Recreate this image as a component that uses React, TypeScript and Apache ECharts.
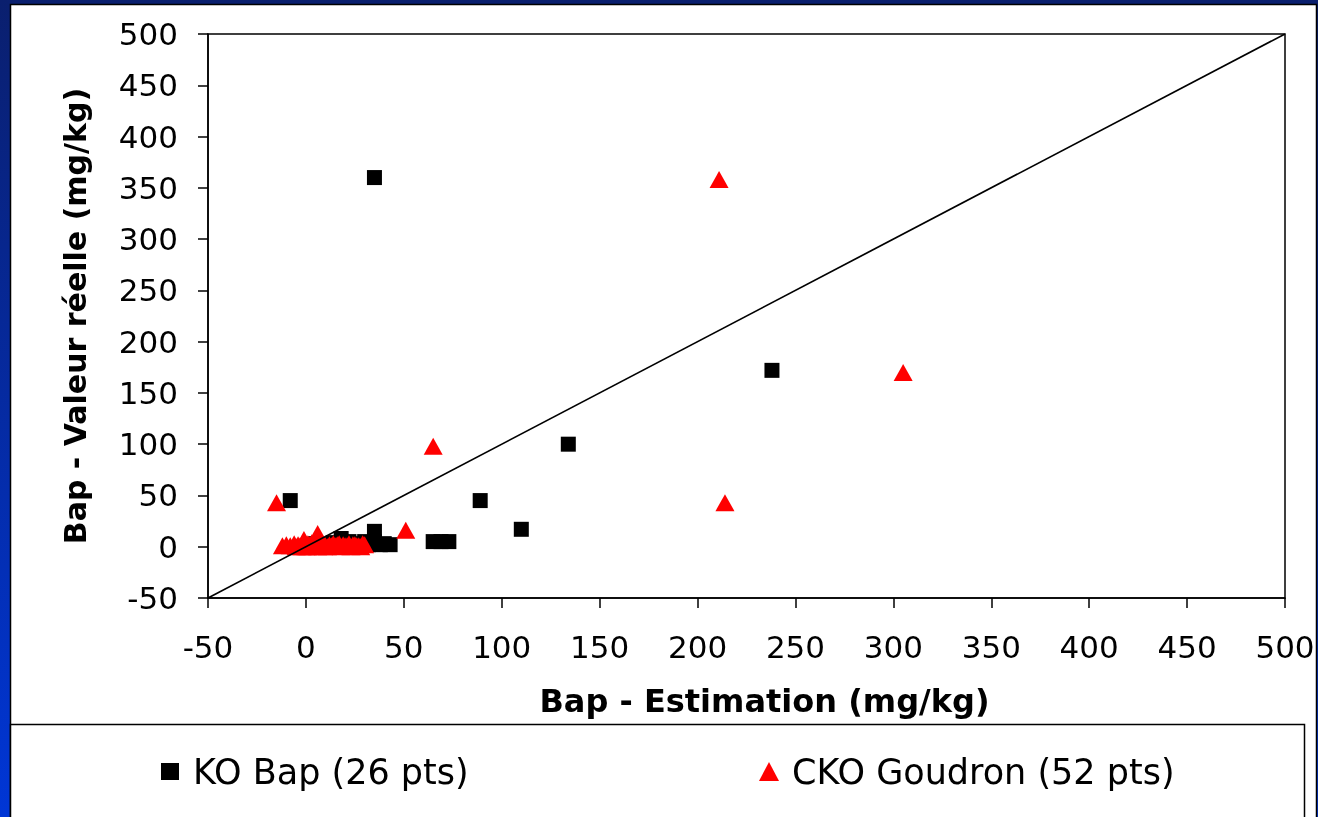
import React, { useEffect, useRef } from "react";
import * as echarts from "echarts";

const xTicks = { min: -50, max: 500, interval: 50 };
const yTicks = { min: -50, max: 500, interval: 50 };

const koBapName = "KO Bap (26 pts)";
const ckoName = "CKO Goudron (52 pts)";

// [estimation, valeur réelle]
const koBap: number[][] = [
  [35, 360], [238, 172], [134, 100], [89, 45], [110, 17], [-8, 45],
  [35, 15], [35, 5], [38, 2], [43, 2], [65, 5], [69, 5], [73, 5],
  [18, 8], [14, 4], [20, 3], [25, 3], [28, 2], [10, 2], [5, 3],
  [30, 5], [40, 3], [22, 5], [15, 2], [8, 1], [32, 2],
];

const ckoGoudron: number[][] = [
  [211, 358], [305, 170], [214, 43], [65, 98], [51, 16], [-15, 43],
  [-12, 1], [-8, 1], [-6, 3], [-3, 1], [-1, 7], [0, 2], [2, 1], [3, 4],
  [5, 2], [6, 13], [7, 1], [9, 2], [10, 1], [12, 2], [15, 1], [17, 3],
  [20, 1], [22, 3], [25, 2], [27, 1], [29, 3], [30, 2],
  [1, 0], [2, 2], [4, 1], [-2, 0], [0, 0], [3, 2], [-5, 0], [8, 3],
  [11, 0], [13, 1], [16, 2], [18, 0], [19, 2], [21, 1], [23, 0], [24, 2],
  [26, 1], [28, 0], [-10, 2], [-4, 2], [6, 0], [14, 3], [1, 3], [9, 0],
];

const diagonal: number[][] = [[-50, -50], [500, 500]];

const FONT = "'DejaVu Sans', 'Liberation Sans', Arial, sans-serif";

export default function App() {
  const ref = useRef<HTMLDivElement>(null);
  useEffect(() => {
    if (!ref.current) return;
    const chart = echarts.init(ref.current, undefined, { renderer: "svg" });
    chart.setOption({
      animation: false,
      textStyle: { fontFamily: FONT },
      graphic: [
        {
          type: "rect",
          z: -10,
          shape: { x: 0, y: 0, width: 1318, height: 817 },
          style: {
            fill: new echarts.graphic.LinearGradient(0, 0, 0, 1, [
              { offset: 0, color: "#0a1f6e" },
              { offset: 1, color: "#0036d6" },
            ]),
          },
          silent: true,
        },
        {
          type: "rect",
          z: -9,
          shape: { x: 10.5, y: 4.5, width: 1306, height: 820 },
          style: { fill: "#ffffff", stroke: "#000000", lineWidth: 1.5 },
          silent: true,
        },
        {
          type: "rect",
          z: -8,
          shape: { x: 10.5, y: 724.5, width: 1294, height: 100 },
          style: { fill: "#ffffff", stroke: "#000000", lineWidth: 1.5 },
          silent: true,
        },
      ],
      legend: [
        {
          data: [koBapName],
          left: 156,
          top: 749,
          itemWidth: 18,
          itemHeight: 17,
          textStyle: {
            fontSize: 35,
            color: "#000",
            fontFamily: FONT,
            padding: [0, 0, 0, 9],
          },
        },
        {
          data: [ckoName],
          left: 754,
          top: 749,
          itemWidth: 20,
          itemHeight: 19,
          textStyle: {
            fontSize: 35,
            color: "#000",
            fontFamily: FONT,
            padding: [0, 0, 0, 8],
          },
        },
      ],
      grid: {
        left: 208,
        top: 34,
        right: 33,
        bottom: 219,
        show: true,
        borderColor: "#000",
        borderWidth: 1.5,
        backgroundColor: "transparent",
      },
      xAxis: {
        type: "value",
        min: xTicks.min,
        max: xTicks.max,
        interval: xTicks.interval,
        name: "Bap - Estimation (mg/kg)",
        nameLocation: "middle",
        nameGap: 87,
        nameTextStyle: {
          fontSize: 32,
          fontWeight: "bold",
          color: "#000",
          fontFamily: FONT,
          padding: [0, 0, 0, 36],
        },
        axisLine: { onZero: false, lineStyle: { color: "#000", width: 1.5 } },
        axisTick: { length: 10, lineStyle: { color: "#000", width: 1.5 } },
        axisLabel: { fontSize: 31, color: "#000", margin: 33, fontFamily: FONT },
        splitLine: { show: false },
      },
      yAxis: {
        type: "value",
        min: yTicks.min,
        max: yTicks.max,
        interval: yTicks.interval,
        name: "Bap - Valeur réelle (mg/kg)",
        nameLocation: "middle",
        nameGap: 118,
        nameTextStyle: { fontSize: 30, fontWeight: "bold", color: "#000", fontFamily: FONT },
        axisLine: { onZero: false, lineStyle: { color: "#000", width: 1.5 } },
        axisTick: { length: 10, lineStyle: { color: "#000", width: 1.5 } },
        axisLabel: { fontSize: 31, color: "#000", margin: 30, fontFamily: FONT },
        splitLine: { show: false },
      },
      series: [
        {
          name: koBapName,
          type: "scatter",
          symbol: "rect",
          symbolSize: 15,
          itemStyle: { color: "#000000", opacity: 1 },
          data: koBap,
          z: 2,
        },
        {
          name: ckoName,
          type: "scatter",
          symbol: "triangle",
          symbolSize: [19, 17],
          itemStyle: { color: "#ff0000", opacity: 1 },
          data: ckoGoudron,
          z: 3,
        },
        {
          name: "diagonal",
          type: "line",
          data: diagonal,
          symbol: "none",
          lineStyle: { color: "#000", width: 1.7 },
          z: 4,
          silent: true,
        },
      ],
    });
    return () => chart.dispose();
  }, []);
  return (
    <div
      ref={ref}
      style={{ position: "fixed", left: 0, top: 0, width: 1318, height: 817 }}
    />
  );
}
